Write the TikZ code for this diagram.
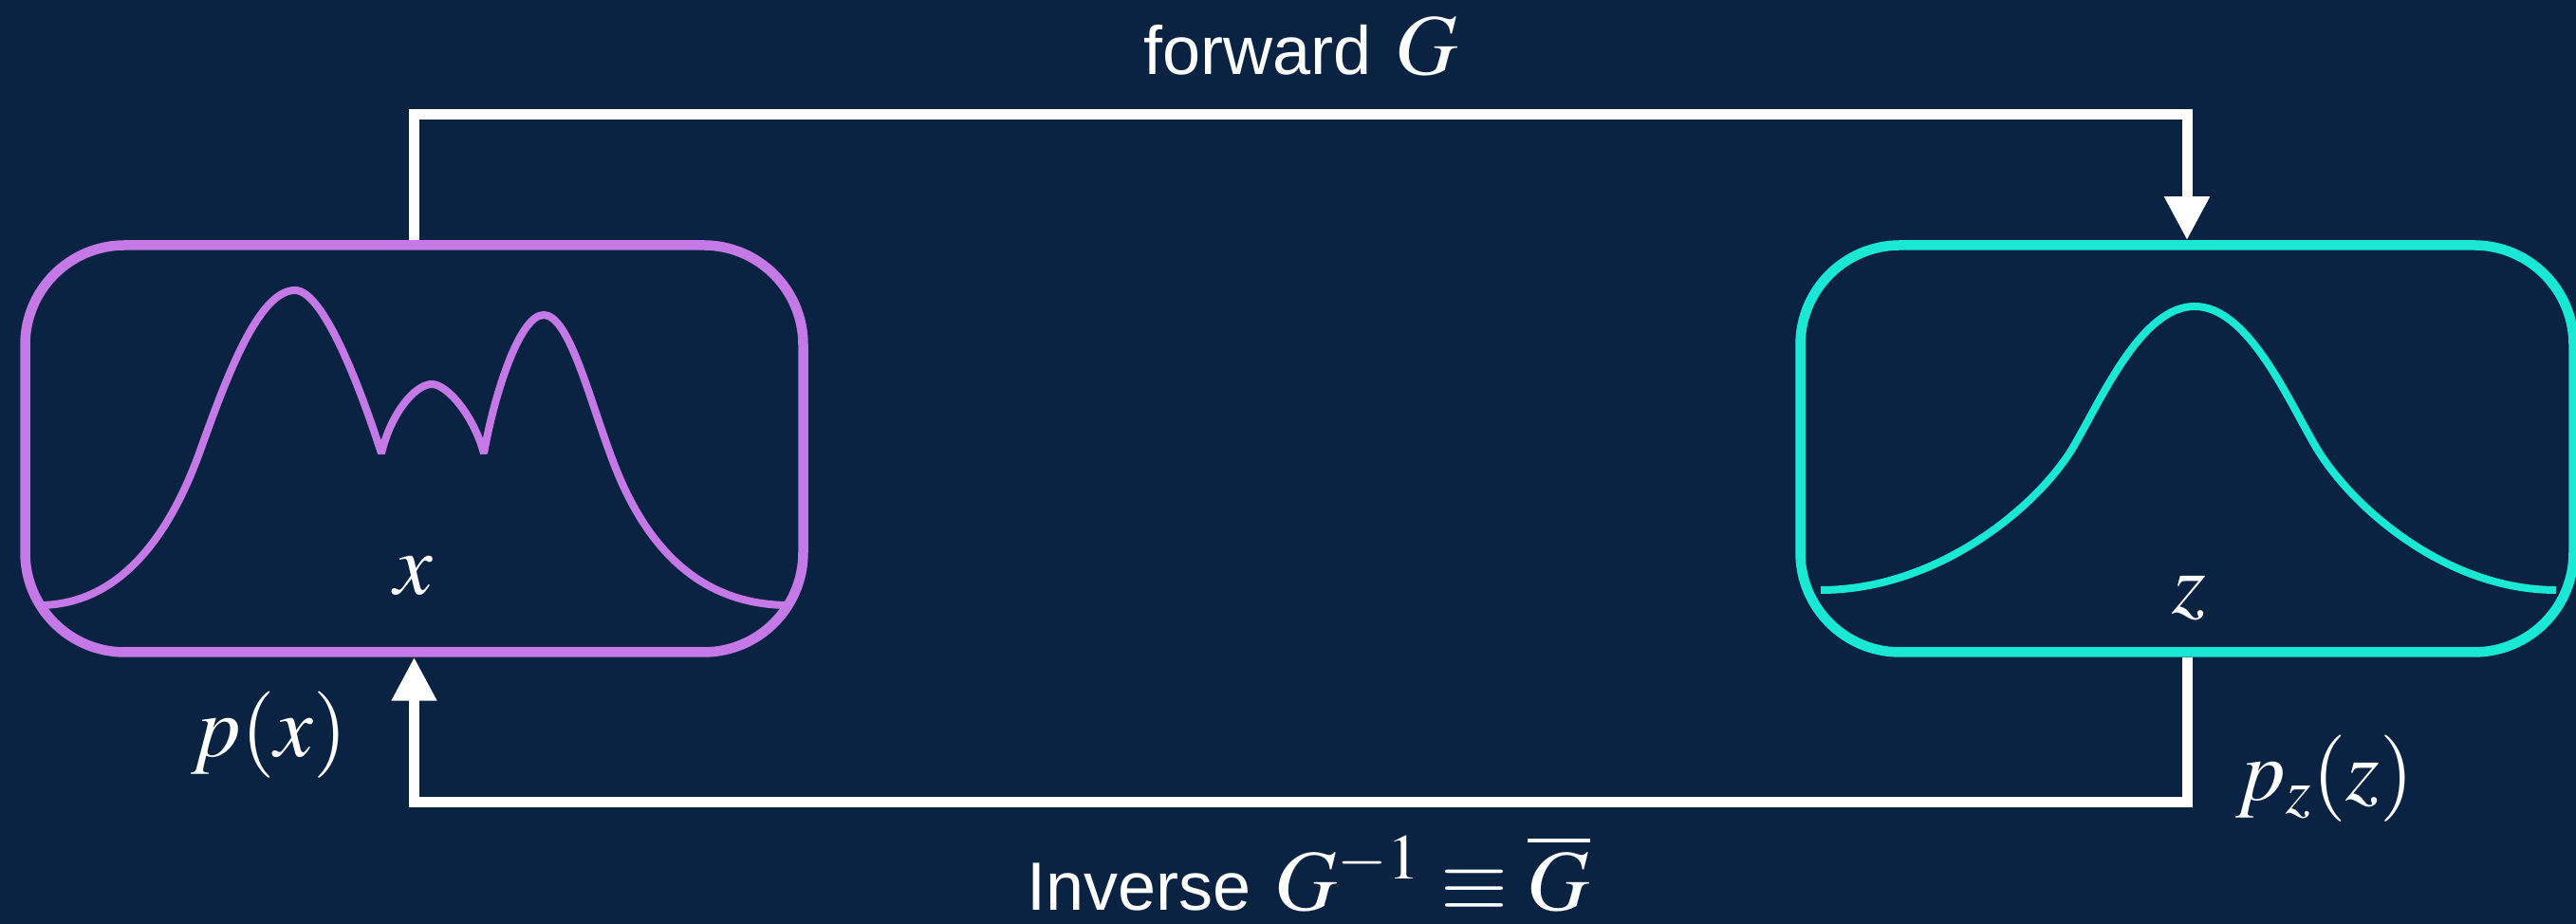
\documentclass[tikz,border=0pt]{standalone}
\usepackage{mathptmx}
\usepackage[no-math]{fontspec}
\setmainfont{Liberation Sans}
\usetikzlibrary{arrows.meta}
\definecolor{fondo}{HTML}{0B2342}
\definecolor{lila}{HTML}{C479E6}
\definecolor{turq}{HTML}{18E8D4}
\newcommand{\txtsize}{\fontsize{20.5}{24}\selectfont}

\begin{document}
\begin{tikzpicture}[
      caja/.style={draw, line width=1.05mm, rounded corners=1.05cm,
                   minimum width=8.2cm, minimum height=4.29cm, inner sep=0pt},
      curva/.style={line width=0.8mm, line join=bevel},
      flujo/.style={draw=white, line width=1.1mm, line join=miter,
                    -{Triangle[length=4.6mm, width=4.5mm]}},
      etiq/.style={text=white, inner sep=0pt, font=\fontsize{26}{30}\selectfont}
    ]
    \fill[fondo] (0,0) rectangle (27.15,9.74);
    \useasboundingbox (0,0) rectangle (27.15,9.74);

    \draw[curva, lila] (0.44,3.36) .. controls (1.35,3.38) and (1.84,4.24) .. (2.11,4.99)
      .. controls (2.38,5.74) and (2.72,6.68) .. (3.11,6.68)
      .. controls (3.43,6.68) and (3.85,5.49) .. (4.02,4.96)
      .. controls (4.12,5.39) and (4.38,5.69) .. (4.55,5.69)
      .. controls (4.72,5.69) and (5.00,5.34) .. (5.10,4.96)
      .. controls (5.20,5.54) and (5.47,6.42) .. (5.73,6.42)
      .. controls (5.99,6.42) and (6.20,5.58) .. (6.43,4.96)
      .. controls (6.70,4.21) and (7.20,3.38) .. (8.28,3.36);
    \draw[curva, turq] (19.19,3.52) .. controls (20.45,3.52) and (21.52,4.44) .. (21.87,5.06)
      .. controls (22.17,5.58) and (22.58,6.51) .. (23.13,6.51)
      .. controls (23.68,6.51) and (24.09,5.58) .. (24.39,5.06)
      .. controls (24.74,4.44) and (25.75,3.52) .. (26.94,3.52);

    \node[caja, draw=lila] (xbox) at (4.365,5.01) {};
    \node[caja, draw=turq, minimum width=8.15cm] (zbox) at (23.05,5.01) {};

    \node[etiq] (xlab) at (4.36,3.67) {$x$};
    \node[etiq] (zlab) at (23.07,3.44) {$z$};
    \node[etiq] (px) at (2.84,1.99) {$p(x)$};
    \node[etiq] (pz) at (24.50,1.53) {$p_z(z)$};
    \node[etiq, anchor=base] (fwd) at (13.71,8.95) {{\txtsize forward} $G$};
    \node[etiq, anchor=base] (inv) at (13.79,0.14) {{\txtsize Inverse} $G^{-1}\equiv\overline{G}$};

    \draw[flujo] (xbox.north) -- ++(0,1.33) -| (zbox.north);
    \draw[flujo] (zbox.south) -- ++(0,-1.53) -| (xbox.south);
  \end{tikzpicture}
\end{document}
